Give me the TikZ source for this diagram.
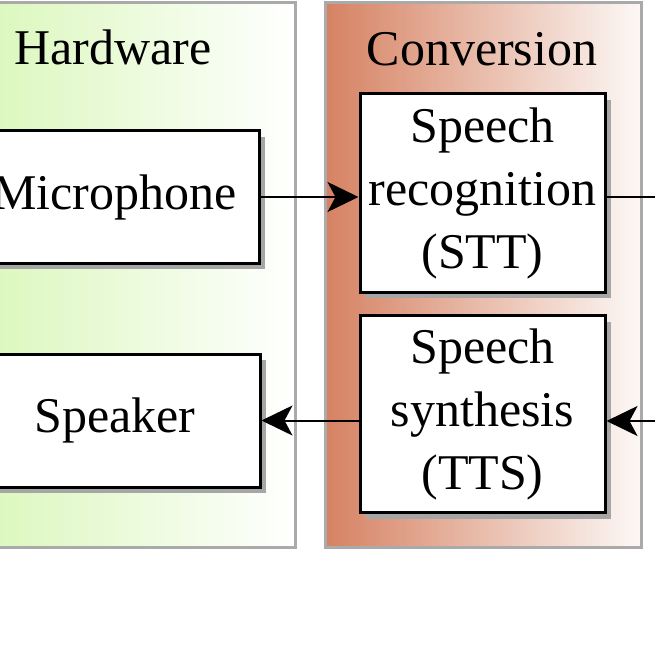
\documentclass[tikz,border=0pt]{standalone}
\usepackage{fontspec}
\setmainfont{Liberation Serif}
\usetikzlibrary{arrows.meta,shadows}
\definecolor{hwleft}{RGB}{212,246,176}
\definecolor{cvleft}{RGB}{214,130,98}
\definecolor{cvright}{RGB}{252,248,246}
\definecolor{frame}{RGB}{170,170,170}
\tikzset{
  container/.style={draw=frame, line width=3pt, inner sep=0pt},
  unitbox/.style={draw=black, line width=3pt, fill=white, inner sep=0pt, align=center,
    font=\fontsize{50}{63}\selectfont,
    drop shadow={shadow xshift=6pt, shadow yshift=-6pt, fill=black!35, opacity=1}},
  grouplabel/.style={anchor=base, font=\fontsize{50}{63}\selectfont},
  conn/.style={line width=2pt, -{Stealth[length=31pt,width=30pt,inset=8pt]}},
  line/.style={line width=2pt}
}
\begin{document}
\begin{tikzpicture}[x=1pt,y=-1pt]
\useasboundingbox (0,0) rectangle (655,655);
\clip (0,0) rectangle (655,655);
% containers
\node[container, left color=hwleft, right color=white, minimum width=364pt, minimum height=544pt] (hw) at (113,275) {};
\node[container, left color=cvleft, right color=cvright, minimum width=316pt, minimum height=544pt] (cv) at (483,275) {};
\node[grouplabel] (hwl) at (113,65) {Hardware};
\node[grouplabel] (cvl) at (482,66) {Conversion};
% boxes
\node[unitbox, minimum width=289pt, minimum height=132pt] (mic) at (114.5,197) {Microphone};
\node[unitbox, minimum width=290pt, minimum height=133pt] (spk) at (115,420.5) {Speaker};
\node[unitbox, minimum width=245pt, minimum height=198pt] (stt) at (482.5,193) {Speech\\recognition\\(STT)};
\node[unitbox, minimum width=245pt, minimum height=197pt] (tts) at (482.5,414) {Speech\\synthesis\\(TTS)};
% off-picture ends
\coordinate (outR) at (720,197);
\coordinate (inR) at (720,421);
% connectors
\draw[conn] (mic.east) -- (mic.east -| stt.west);
\draw[line] (mic.east -| stt.east) -- (outR);
\draw[conn] (inR) -- (inR -| tts.east);
\draw[conn] (spk.east -| tts.west) -- (spk.east);
\end{tikzpicture}
\end{document}
